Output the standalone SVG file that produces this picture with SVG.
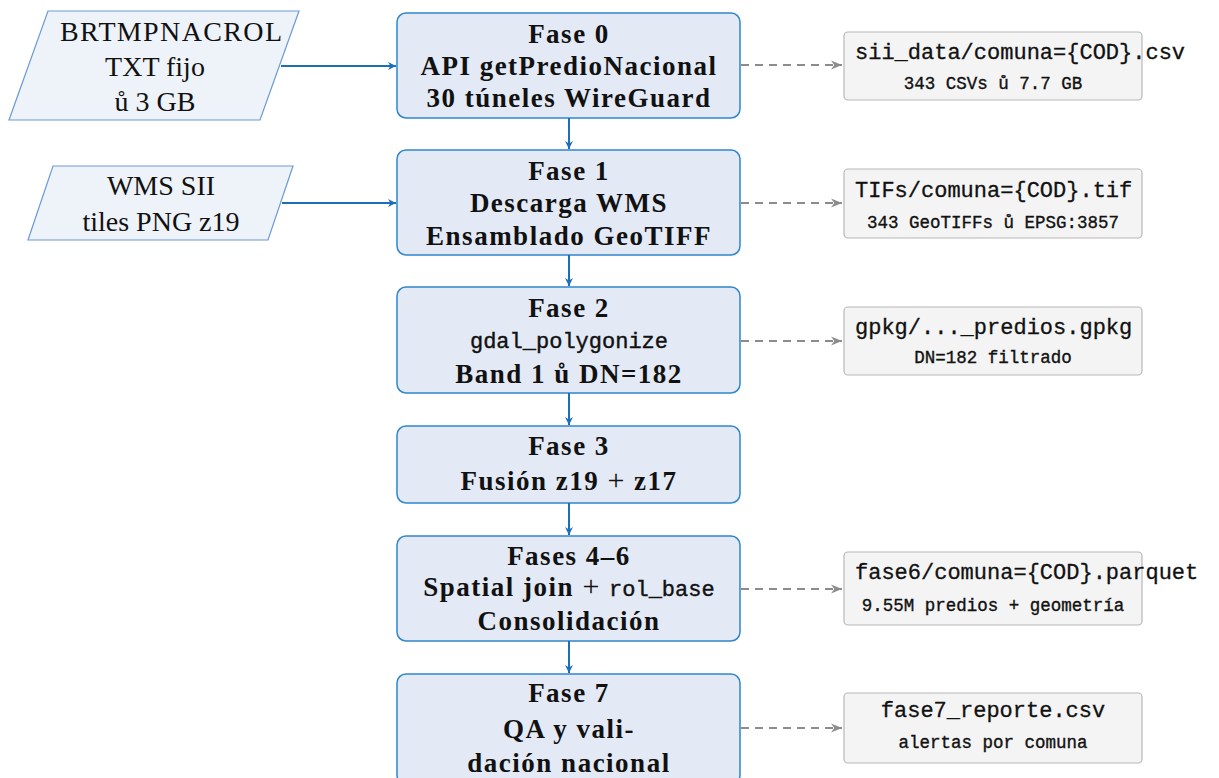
<svg xmlns="http://www.w3.org/2000/svg" width="1219" height="778" viewBox="0 0 1219 778">
<style>
.inp{fill:#eef2f9;stroke:#6a9ad6;stroke-width:1.2}
.ph{fill:#e3e9f5;stroke:#2f86cc;stroke-width:1.5}
.out{fill:#f4f4f4;stroke:#b8b8b8;stroke-width:1.2}
.rs{font-family:"Liberation Serif",serif;font-size:28px;fill:#111;text-anchor:middle}
.bs{font-family:"Liberation Serif",serif;font-size:27px;font-weight:bold;fill:#111;text-anchor:middle;letter-spacing:1.5px}
.tt{font-family:"Liberation Mono",monospace;font-weight:normal;letter-spacing:0;stroke:#111;stroke-width:0.4}
.m{font-family:"Liberation Mono",monospace;font-size:22px;fill:#111;stroke:#111;stroke-width:0.3}
.s{font-family:"Liberation Mono",monospace;font-size:17.5px;fill:#111;stroke:#111;stroke-width:0.35;text-anchor:middle}
.pl{font-weight:normal;font-size:30px}
.blue{stroke:#1a6fb8;stroke-width:2;fill:none}
.dash{stroke:#8c8c8c;stroke-width:2;fill:none;stroke-dasharray:8 6}
</style>
<defs>
<marker id="ab" viewBox="0 0 10 10" refX="10" refY="5" markerWidth="8" markerHeight="8" markerUnits="userSpaceOnUse" orient="auto"><path d="M0,0 L10,5 L0,10 L3,5 Z" fill="#1a6fb8"/></marker>
<marker id="ag" viewBox="0 0 10 10" refX="10" refY="5" markerWidth="11" markerHeight="11" markerUnits="userSpaceOnUse" orient="auto"><path d="M0,1 L10,5 L0,9 L3,5 Z" fill="#8c8c8c"/></marker>
</defs>

<g id="in-brtmp">
<polygon class="inp" points="48,11 299,11 260,120 9,120"/>
<text class="rs" x="171" y="41" textLength="222" lengthAdjust="spacing">BRTMPNACROL</text>
<text class="rs" x="155" y="76">TXT fijo</text>
<text class="rs" x="155" y="111">ů 3 GB</text>
</g>
<g id="in-wms">
<polygon class="inp" points="53,166 293,166 268,240 28,240"/>
<text class="rs" x="161" y="195">WMS SII</text>
<text class="rs" x="161" y="231">tiles PNG z19</text>
</g>

<g id="fase0">
<rect class="ph" x="397" y="13" width="343" height="105" rx="9"/>
<text class="bs" x="569" y="43">Fase 0</text>
<text class="bs" x="569" y="75">API getPredioNacional</text>
<text class="bs" x="569" y="107">30 túneles WireGuard</text>
</g>
<g id="fase1">
<rect class="ph" x="397" y="150" width="343" height="105" rx="9"/>
<text class="bs" x="569" y="180">Fase 1</text>
<text class="bs" x="569" y="212">Descarga WMS</text>
<text class="bs" x="569" y="245">Ensamblado GeoTIFF</text>
</g>
<g id="fase2">
<rect class="ph" x="397" y="287" width="343" height="106" rx="9"/>
<text class="bs" x="569" y="317">Fase 2</text>
<text class="bs" x="569" y="348"><tspan class="tt" font-size="22">gdal_polygonize</tspan></text>
<text class="bs" x="569" y="383">Band 1 ů DN=182</text>
</g>
<g id="fase3">
<rect class="ph" x="397" y="426" width="343" height="77" rx="9"/>
<text class="bs" x="569" y="455">Fase 3</text>
<text class="bs" x="569" y="490">Fusión z19 <tspan class="pl">+</tspan> z17</text>
</g>
<g id="fase4-6">
<rect class="ph" x="397" y="536" width="343" height="105" rx="9"/>
<text class="bs" x="569" y="565">Fases 4–6</text>
<text class="bs" x="569" y="596">Spatial join <tspan class="pl">+</tspan> <tspan class="tt" font-size="22">rol_base</tspan></text>
<text class="bs" x="569" y="630">Consolidación</text>
</g>
<g id="fase7">
<rect class="ph" x="397" y="674" width="343" height="110" rx="9"/>
<text class="bs" x="569" y="702">Fase 7</text>
<text class="bs" x="569" y="738">QA y vali-</text>
<text class="bs" x="569" y="772">dación nacional</text>
</g>

<g id="out-sii">
<rect class="out" x="844" y="32" width="298" height="68" rx="4"/>
<text class="m" x="855" y="59">sii_data/comuna={COD}.csv</text>
<text class="s" x="993" y="89">343 CSVs ů 7.7 GB</text>
</g>
<g id="out-tifs">
<rect class="out" x="844" y="169" width="298" height="69" rx="4"/>
<text class="m" x="855" y="197">TIFs/comuna={COD}.tif</text>
<text class="s" x="993" y="228">343 GeoTIFFs ů EPSG:3857</text>
</g>
<g id="out-gpkg">
<rect class="out" x="844" y="307" width="298" height="68" rx="4"/>
<text class="m" x="855" y="334">gpkg/..._predios.gpkg</text>
<text class="s" x="993" y="363">DN=182 filtrado</text>
</g>
<g id="out-fase6">
<rect class="out" x="844" y="552" width="298" height="73" rx="4"/>
<text class="m" x="855" y="579">fase6/comuna={COD}.parquet</text>
<text class="s" x="993" y="611">9.55M predios + geometría</text>
</g>
<g id="out-fase7">
<rect class="out" x="844" y="693" width="298" height="70" rx="4"/>
<text class="m" x="993" y="717" text-anchor="middle">fase7_reporte.csv</text>
<text class="s" x="993" y="748">alertas por comuna</text>
</g>

<g id="connectors">
<line class="blue" x1="281" y1="66" x2="396" y2="66" marker-end="url(#ab)"/>
<line class="blue" x1="282" y1="203" x2="396" y2="203" marker-end="url(#ab)"/>
<line class="blue" x1="569" y1="118" x2="569" y2="149" marker-end="url(#ab)"/>
<line class="blue" x1="569" y1="255" x2="569" y2="286" marker-end="url(#ab)"/>
<line class="blue" x1="569" y1="393" x2="569" y2="425" marker-end="url(#ab)"/>
<line class="blue" x1="569" y1="503" x2="569" y2="535" marker-end="url(#ab)"/>
<line class="blue" x1="569" y1="641" x2="569" y2="673" marker-end="url(#ab)"/>
<line class="dash" x1="741" y1="65" x2="842" y2="65" marker-end="url(#ag)"/>
<line class="dash" x1="741" y1="203" x2="842" y2="203" marker-end="url(#ag)"/>
<line class="dash" x1="741" y1="341" x2="842" y2="341" marker-end="url(#ag)"/>
<line class="dash" x1="741" y1="589" x2="842" y2="589" marker-end="url(#ag)"/>
<line class="dash" x1="741" y1="728" x2="842" y2="728" marker-end="url(#ag)"/>
</g>
</svg>
